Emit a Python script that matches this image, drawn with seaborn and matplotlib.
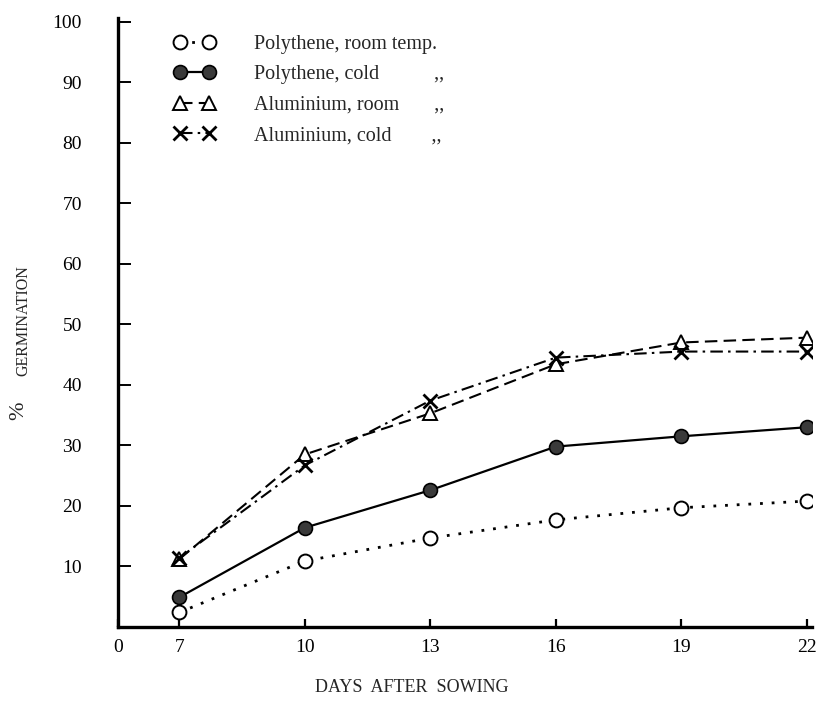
import matplotlib
matplotlib.use("Agg")
import matplotlib.pyplot as plt
import seaborn as sns
import pandas as pd

# ---- data ----
days = [7, 10, 13, 16, 19, 22]
poly_room = [2.4, 10.9, 14.7, 17.7, 19.7, 20.8]
poly_cold = [4.9, 16.4, 22.6, 29.8, 31.5, 33.0]
alu_room = [11.2, 28.5, 35.3, 43.4, 47.0, 47.8]
alu_cold = [11.4, 26.7, 37.4, 44.5, 45.5, 45.5]
series_labels = [
    "Polythene, room temp.",
    "Polythene, cold           ,,",
    "Aluminium, room       ,,",
    "Aluminium, cold        ,,",
]
x_tick_values = [7, 10, 13, 16, 19, 22]
x_tick_labels = ["0", "7", "10", "13", "16", "19", "22"]
y_tick_values = [10, 20, 30, 40, 50, 60, 70, 80, 90, 100]
x_title = "DAYS  AFTER  SOWING"
y_title = "GERMINATION"
y_title_prefix = "%"

sns.set_theme(style="white")
plt.rcParams["font.family"] = ["Liberation Serif", "DejaVu Serif"]

df = pd.DataFrame({
    "day": days * 4,
    "pct": poly_room + poly_cold + alu_room + alu_cold,
    "series": sum([[s] * len(days) for s in series_labels], []),
})

fig = plt.figure(figsize=(8.2, 7.11), dpi=100)
ax = fig.add_axes([118 / 820, 1 - 627 / 711, 694 / 820, 609 / 711])

styles = [
    dict(linestyle=(0, (1, 3.2)), linewidth=2.0, marker="o", markersize=10,
         markerfacecolor="white", markeredgecolor="black", markeredgewidth=1.4),
    dict(linestyle="-", linewidth=1.6, marker="o", markersize=10,
         markerfacecolor="#3a3a3a", markeredgecolor="black", markeredgewidth=1.2),
    dict(linestyle=(0, (6, 3)), linewidth=1.5, marker="^", markersize=10,
         markerfacecolor="white", markeredgecolor="black", markeredgewidth=1.4),
    dict(linestyle=(0, (6, 2.5, 1.2, 2.5)), linewidth=1.5, marker="x", markersize=10,
         markeredgecolor="black", markeredgewidth=2.0),
]

for lab, st in zip(series_labels, styles):
    sub = df[df["series"] == lab]
    sns.lineplot(data=sub, x="day", y="pct", ax=ax, color="black", label=lab,
                 legend=False, **st)

xmin = 5.536
ax.set_xlim(xmin, 22.12)
ax.set_ylim(0, 100.6)

ax.set_xticks([xmin] + x_tick_values)
ax.set_xticklabels(x_tick_labels)
ax.set_yticks(y_tick_values)
ax.set_yticklabels([str(v) for v in y_tick_values])

for s in ["top", "right"]:
    ax.spines[s].set_visible(False)
for s in ["left", "bottom"]:
    ax.spines[s].set_linewidth(2.4)
    ax.spines[s].set_color("black")

ax.tick_params(axis="y", direction="in", length=9, width=1.4, pad=26,
               labelsize=14, colors="black", left=True)
ax.tick_params(axis="x", direction="in", length=6, width=1.6, pad=9,
               labelsize=14, colors="black", bottom=True)

ax.set_xlabel(x_title, fontsize=13)
ax.xaxis.set_label_coords(0.424, -0.086)
ax.set_ylabel(y_title, fontsize=11.5)
ax.yaxis.set_label_coords(-0.125, 0.504)
fig.text(19 / 820, 1 - 411 / 711, y_title_prefix, rotation=90, fontsize=16,
         ha="center", va="center")

leg = ax.legend(handles=ax.lines[:4], labels=series_labels, loc="upper left",
                bbox_to_anchor=(0.055, 1.002), frameon=False, fontsize=14.5,
                handlelength=2.0, handletextpad=1.95, labelspacing=0.56,
                numpoints=2)

fig.savefig("out.png", dpi=100)
